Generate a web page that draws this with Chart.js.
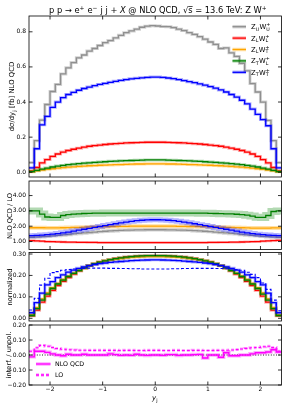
<!DOCTYPE html>
<html>
<head>
<meta charset="utf-8">
<script src="https://cdn.jsdelivr.net/npm/chart.js@4.4.1/dist/chart.umd.min.js"></script>
<style>
  body { margin: 0; background: #fff; overflow: hidden; }
  #wrap { position: relative; width: 293px; height: 410px; }
  canvas { position: absolute; left: 0; top: 0; }
</style>
</head>
<body>
<div id="wrap">
  <canvas id="pTop" width="293" height="410"></canvas>
  <canvas id="pRatio" width="293" height="410"></canvas>
  <canvas id="pNorm" width="293" height="410"></canvas>
  <canvas id="pInterf" width="293" height="410"></canvas>
</div>
<script>
// bin edges in y_j (48 bins of 0.1)
const binEdges = [-2.4, -2.3, -2.2, -2.1, -2.0, -1.9, -1.8, -1.7, -1.6, -1.5, -1.4, -1.3, -1.2, -1.1, -1.0, -0.9, -0.8, -0.7, -0.6, -0.5, -0.4, -0.3, -0.2, -0.1, 0.0,
  0.1, 0.2, 0.3, 0.4, 0.5, 0.6, 0.7, 0.8, 0.9, 1.0, 1.1, 1.2, 1.3, 1.4, 1.5, 1.6, 1.7, 1.8, 1.9, 2.0, 2.1, 2.2, 2.3, 2.4];

const xTickVals = [-2, -1, 0, 1, 2];
const topTickVals = [0, 0.2, 0.4, 0.6, 0.8];
const ratioTickVals = [1, 2, 3, 4];
const normTickVals = [0, 0.1, 0.2, 0.3];
const interfTickVals = [-0.2, -0.1, 0, 0.1, 0.2];

// dsigma/dy_j [fb], NLO QCD
const xsUU = [0.055, 0.18, 0.297, 0.386, 0.46, 0.50, 0.56, 0.595, 0.625, 0.652, 0.668, 0.69, 0.705, 0.722, 0.738, 0.75, 0.765, 0.78, 0.795, 0.805, 0.815, 0.826, 0.832, 0.835,
  0.833, 0.83, 0.829, 0.824, 0.815, 0.807, 0.795, 0.785, 0.772, 0.758, 0.742, 0.728, 0.705, 0.708, 0.68, 0.66, 0.62, 0.578, 0.505, 0.457, 0.40, 0.295, 0.18, 0.055];
const xsLL = [0.008, 0.027, 0.053, 0.072, 0.09, 0.104, 0.115, 0.124, 0.131, 0.137, 0.143, 0.148, 0.152, 0.155, 0.158, 0.161, 0.163, 0.165, 0.167, 0.168, 0.169, 0.17, 0.171, 0.171,
  0.171, 0.171, 0.17, 0.169, 0.168, 0.167, 0.165, 0.163, 0.161, 0.158, 0.155, 0.152, 0.148, 0.143, 0.137, 0.131, 0.124, 0.115, 0.104, 0.09, 0.072, 0.053, 0.027, 0.008];
const xsLT = [0.003, 0.008, 0.013, 0.017, 0.02, 0.023, 0.026, 0.029, 0.031, 0.033, 0.035, 0.037, 0.038, 0.04, 0.041, 0.042, 0.043, 0.044, 0.045, 0.046, 0.047, 0.047, 0.048, 0.048,
  0.048, 0.048, 0.047, 0.047, 0.046, 0.045, 0.044, 0.043, 0.042, 0.041, 0.04, 0.038, 0.037, 0.035, 0.033, 0.031, 0.029, 0.026, 0.023, 0.02, 0.017, 0.013, 0.008, 0.003];
const xsTL = [0.004, 0.011, 0.018, 0.024, 0.03, 0.035, 0.039, 0.043, 0.046, 0.049, 0.052, 0.054, 0.056, 0.058, 0.06, 0.062, 0.063, 0.065, 0.066, 0.067, 0.068, 0.069, 0.07, 0.07,
  0.07, 0.07, 0.069, 0.068, 0.067, 0.066, 0.065, 0.063, 0.062, 0.06, 0.058, 0.056, 0.054, 0.052, 0.049, 0.046, 0.043, 0.039, 0.035, 0.03, 0.024, 0.018, 0.011, 0.004];
const xsTT = [0.025, 0.134, 0.27, 0.318, 0.37, 0.40, 0.425, 0.443, 0.455, 0.467, 0.477, 0.485, 0.493, 0.5, 0.506, 0.512, 0.518, 0.523, 0.528, 0.532, 0.535, 0.538, 0.54, 0.542,
  0.542, 0.54, 0.537, 0.533, 0.528, 0.522, 0.516, 0.51, 0.503, 0.496, 0.488, 0.479, 0.469, 0.457, 0.443, 0.428, 0.41, 0.39, 0.36, 0.33, 0.3, 0.265, 0.134, 0.025];

// NLO QCD / LO
const kUU = [1.28, 1.3, 1.32, 1.34, 1.37, 1.4, 1.43, 1.46, 1.5, 1.53, 1.56, 1.59, 1.62, 1.65, 1.67, 1.69, 1.71, 1.73, 1.74, 1.75, 1.76, 1.76, 1.77, 1.77,
  1.77, 1.77, 1.76, 1.76, 1.75, 1.74, 1.73, 1.71, 1.69, 1.67, 1.65, 1.62, 1.59, 1.56, 1.53, 1.5, 1.46, 1.43, 1.4, 1.37, 1.34, 1.32, 1.3, 1.28];
const kLL = [1.06, 1.04, 1.02, 1.0, 0.99, 0.98, 0.97, 0.96, 0.955, 0.95, 0.945, 0.94, 0.94, 0.935, 0.935, 0.93, 0.93, 0.93, 0.93, 0.93, 0.93, 0.93, 0.93, 0.93,
  0.93, 0.93, 0.93, 0.93, 0.93, 0.93, 0.93, 0.93, 0.935, 0.935, 0.94, 0.94, 0.945, 0.95, 0.955, 0.96, 0.97, 0.98, 0.99, 1.0, 1.02, 1.04, 1.06, 1.08];
const kLT = [1.9, 1.9, 1.9, 1.89, 1.89, 1.89, 1.9, 1.91, 1.92, 1.93, 1.94, 1.95, 1.96, 1.97, 1.97, 1.98, 1.98, 1.99, 1.99, 2.0, 2.0, 2.0, 2.0, 2.0,
  2.0, 2.0, 2.0, 2.0, 1.99, 1.99, 1.98, 1.98, 1.97, 1.97, 1.96, 1.95, 1.94, 1.93, 1.92, 1.91, 1.9, 1.89, 1.88, 1.88, 1.88, 1.88, 1.89, 1.89];
const kTL = [3.0, 3.0, 2.79, 2.6, 2.57, 2.57, 2.7, 2.76, 2.79, 2.81, 2.83, 2.84, 2.85, 2.85, 2.86, 2.86, 2.86, 2.86, 2.86, 2.86, 2.86, 2.86, 2.86, 2.86,
  2.86, 2.86, 2.86, 2.86, 2.86, 2.86, 2.86, 2.86, 2.85, 2.85, 2.84, 2.83, 2.82, 2.81, 2.8, 2.78, 2.76, 2.72, 2.66, 2.58, 2.57, 2.7, 2.96, 3.0];
const kTT = [1.38, 1.4, 1.42, 1.45, 1.48, 1.52, 1.57, 1.62, 1.68, 1.74, 1.8, 1.86, 1.92, 1.98, 2.04, 2.1, 2.16, 2.22, 2.27, 2.32, 2.36, 2.39, 2.41, 2.42,
  2.42, 2.41, 2.39, 2.36, 2.32, 2.27, 2.22, 2.16, 2.1, 2.04, 1.98, 1.92, 1.86, 1.8, 1.74, 1.68, 1.62, 1.57, 1.52, 1.48, 1.45, 1.42, 1.4, 1.38];

// normalized shapes
const nLL = [0.012, 0.038, 0.075, 0.103, 0.13, 0.153, 0.172, 0.19, 0.206, 0.221, 0.234, 0.246, 0.255, 0.263, 0.269, 0.274, 0.279, 0.283, 0.286, 0.288, 0.29, 0.291, 0.292, 0.292,
  0.292, 0.292, 0.291, 0.29, 0.288, 0.286, 0.283, 0.279, 0.274, 0.269, 0.263, 0.255, 0.246, 0.234, 0.221, 0.206, 0.19, 0.172, 0.153, 0.13, 0.103, 0.075, 0.038, 0.012];
const nLT = [0.016, 0.05, 0.09, 0.118, 0.143, 0.163, 0.181, 0.197, 0.211, 0.224, 0.235, 0.245, 0.254, 0.261, 0.267, 0.272, 0.276, 0.279, 0.282, 0.284, 0.286, 0.287, 0.288, 0.288,
  0.288, 0.288, 0.287, 0.286, 0.284, 0.282, 0.279, 0.276, 0.272, 0.267, 0.261, 0.254, 0.245, 0.235, 0.224, 0.211, 0.197, 0.181, 0.163, 0.143, 0.118, 0.09, 0.05, 0.016];
const nTL = [0.013, 0.045, 0.085, 0.113, 0.139, 0.16, 0.178, 0.195, 0.21, 0.223, 0.235, 0.246, 0.255, 0.262, 0.268, 0.274, 0.278, 0.282, 0.285, 0.288, 0.29, 0.291, 0.292, 0.292,
  0.292, 0.292, 0.291, 0.29, 0.288, 0.285, 0.282, 0.278, 0.274, 0.268, 0.262, 0.255, 0.246, 0.235, 0.223, 0.21, 0.195, 0.178, 0.16, 0.139, 0.113, 0.085, 0.045, 0.013];
const nTT = [0.026, 0.073, 0.117, 0.156, 0.171, 0.19, 0.203, 0.215, 0.225, 0.233, 0.24, 0.246, 0.251, 0.255, 0.258, 0.261, 0.263, 0.265, 0.267, 0.269, 0.27, 0.271, 0.272, 0.273,
  0.273, 0.272, 0.271, 0.27, 0.269, 0.267, 0.265, 0.263, 0.261, 0.258, 0.255, 0.251, 0.246, 0.24, 0.233, 0.225, 0.215, 0.203, 0.19, 0.171, 0.156, 0.117, 0.073, 0.026];
const nTTlo = [0.039, 0.093, 0.155, 0.187, 0.213, 0.218, 0.224, 0.227, 0.23, 0.232, 0.233, 0.234, 0.234, 0.234, 0.234, 0.233, 0.233, 0.232, 0.232, 0.231, 0.231, 0.23, 0.23, 0.23,
  0.23, 0.23, 0.23, 0.231, 0.231, 0.232, 0.232, 0.233, 0.233, 0.233, 0.233, 0.232, 0.232, 0.231, 0.23, 0.228, 0.224, 0.215, 0.205, 0.19, 0.165, 0.135, 0.085, 0.035];

// interference / unpolarized
const intNLO = [-0.012, 0.025, 0.025, 0.018, 0.007, 0.0, -0.005, 0.005, 0.0, 0.0, 0.005, 0.0, 0.0, 0.0, 0.0, 0.008, 0.003, -0.002, 0.0, -0.002, 0.005, 0.0, -0.003, 0.0,
  0.0, -0.002, 0.003, 0.003, -0.003, 0.0, 0.0, 0.003, 0.004, -0.02, 0.0, 0.0, -0.015, 0.015, -0.005, -0.005, 0.0, 0.0, 0.008, 0.015, 0.015, 0.02, 0.035, 0.02];
const intLO = [0.025, 0.048, 0.064, 0.058, 0.05, 0.043, 0.038, 0.035, 0.033, 0.032, 0.032, 0.031, 0.031, 0.032, 0.031, 0.031, 0.031, 0.03, 0.031, 0.031, 0.03, 0.03, 0.031, 0.031,
  0.031, 0.03, 0.03, 0.031, 0.031, 0.03, 0.03, 0.031, 0.031, 0.03, 0.03, 0.031, 0.031, 0.032, 0.033, 0.036, 0.04, 0.044, 0.048, 0.05, 0.055, 0.058, 0.05, 0.025];
const zeroLine = [0];

const FAM = '"DejaVu Sans", sans-serif';
const H = 410;

function fmtTick(v, d) { return v.toFixed(d).replace('-', '\u2212'); }

function hist(vals) {
  return binEdges.map((e, i) => ({ x: e, y: vals[Math.min(i, vals.length - 1)] }));
}

function stepLine(vals, color, width, dash) {
  return {
    data: hist(vals), borderColor: color, borderWidth: width, borderDash: dash || [],
    stepped: true, pointRadius: 0, fill: false, clip: 0, borderJoinStyle: 'miter'
  };
}

// a light band-like halo under each histogram line
function series(vals, color, halo, haloW, w, dash) {
  return [stepLine(vals, halo, haloW, dash), stepLine(vals, color, w || 1.3, dash)];
}

function ordered(list) {
  return list.map((d, i) => Object.assign(d, { order: 1000 - i }));
}

// rich text: plain strings, {it}, {over}, {sub, sup}
function setFont(ctx, size, italic) { ctx.font = (italic ? 'italic ' : '') + size + 'px ' + FAM; }
function partW(ctx, p, size) {
  if (typeof p === 'string') { setFont(ctx, size); return ctx.measureText(p).width; }
  if (p.it) { setFont(ctx, size, true); return ctx.measureText(p.it).width; }
  if (p.over) { setFont(ctx, size); return ctx.measureText(p.over).width; }
  setFont(ctx, size * 0.7);
  return Math.max(p.sub ? ctx.measureText(p.sub).width : 0, p.sup ? ctx.measureText(p.sup).width : 0) + size * 0.06;
}
function drawRich(ctx, parts, x, y, size, align, rot) {
  ctx.save();
  ctx.translate(x, y);
  if (rot) ctx.rotate(rot);
  let total = 0;
  parts.forEach(p => { total += partW(ctx, p, size); });
  let cx = align === 'center' ? -total / 2 : (align === 'right' ? -total : 0);
  const base = size * 0.36;
  ctx.fillStyle = '#000';
  ctx.textAlign = 'left';
  ctx.textBaseline = 'alphabetic';
  parts.forEach(p => {
    const w = partW(ctx, p, size);
    if (typeof p === 'string') ctx.fillText(p, cx, base);
    else if (p.it) ctx.fillText(p.it, cx, base);
    else if (p.over) {
      ctx.fillText(p.over, cx, base);
      ctx.fillRect(cx, base - size * 0.82, w, Math.max(0.7, size * 0.07));
    } else {
      if (p.sup) ctx.fillText(p.sup, cx, base - size * 0.42);
      if (p.sub) ctx.fillText(p.sub, cx, base + size * 0.22);
    }
    cx += w;
  });
  ctx.restore();
}

const frame = {
  id: 'frame',
  afterDatasetsDraw(chart) {
    const { ctx, chartArea: a, scales } = chart;
    ctx.save();
    ctx.strokeStyle = '#000';
    ctx.lineWidth = 0.8;
    ctx.strokeRect(a.left, a.top, a.right - a.left, a.bottom - a.top);
    ctx.beginPath();
    xTickVals.forEach(v => {
      const px = scales.x.getPixelForValue(v);
      ctx.moveTo(px, a.bottom); ctx.lineTo(px, a.bottom - 3.5);
      ctx.moveTo(px, a.top); ctx.lineTo(px, a.top + 3.5);
    });
    scales.y.ticks.forEach(t => {
      const py = scales.y.getPixelForValue(t.value);
      ctx.moveTo(a.left, py); ctx.lineTo(a.left + 3.5, py);
      ctx.moveTo(a.right, py); ctx.lineTo(a.right - 3.5, py);
    });
    ctx.stroke();
    ctx.restore();
  }
};

function panel(id, datasets, yMin, yMax, yTicks, dec, top, bottom, deco, showX) {
  const xAxisH = showX ? 12 : 0;
  return new Chart(document.getElementById(id), {
    type: 'line',
    data: { datasets: ordered(datasets) },
    options: {
      responsive: false,
      animation: false,
      events: [],
      layout: { padding: { top: top, bottom: H - bottom - xAxisH, left: 0, right: 11.5 } },
      plugins: { legend: { display: false }, tooltip: { enabled: false } },
      scales: {
        x: {
          type: 'linear', min: -2.4, max: 2.4, display: showX,
          grid: { display: false, drawTicks: false }, border: { display: false },
          afterBuildTicks: s => { s.ticks = xTickVals.map(v => ({ value: v })); },
          afterFit: s => { s.height = xAxisH; },
          ticks: { autoSkip: false, maxRotation: 0, padding: 1, color: '#000',
            font: { family: FAM, size: 6 }, callback: v => fmtTick(v, 0) }
        },
        y: {
          type: 'linear', min: yMin, max: yMax,
          grid: { display: false, drawTicks: false }, border: { display: false },
          afterBuildTicks: s => { s.ticks = yTicks.map(v => ({ value: v })); },
          afterFit: s => { s.width = 29; },
          ticks: { autoSkip: false, padding: 3, color: '#000',
            font: { family: FAM, size: 6 }, callback: v => fmtTick(v, dec) }
        }
      }
    },
    plugins: [frame, { id: 'deco', afterDraw: deco }]
  });
}

const C = {
  grey: '#8f8f8f', greyH: 'rgba(128,128,128,0.35)',
  red: '#ff0000', redH: 'rgba(255,0,0,0.3)',
  orange: '#ffa500', orangeH: 'rgba(255,165,0,0.35)',
  green: '#008000', greenH: 'rgba(0,128,0,0.3)',
  blue: '#0000ff', blueH: 'rgba(0,0,255,0.3)',
  mag: '#ff00ff', magH: 'rgba(255,0,255,0.35)'
};

const legendTop = [
  { parts: ['Z', { sub: 'U' }, 'W', { sub: 'U', sup: '+' }], c: C.grey, h: C.greyH },
  { parts: ['Z', { sub: 'L' }, 'W', { sub: 'L', sup: '+' }], c: C.red, h: C.redH },
  { parts: ['Z', { sub: 'L' }, 'W', { sub: 'T', sup: '+' }], c: C.orange, h: C.orangeH },
  { parts: ['Z', { sub: 'T' }, 'W', { sub: 'L', sup: '+' }], c: C.green, h: C.greenH },
  { parts: ['Z', { sub: 'T' }, 'W', { sub: 'T', sup: '+' }], c: C.blue, h: C.blueH }
];

function legendLine(ctx, x0, x1, y, c, h, dash) {
  ctx.save();
  ctx.lineCap = 'butt';
  ctx.setLineDash(dash || []);
  ctx.strokeStyle = h; ctx.lineWidth = 3.5;
  ctx.beginPath(); ctx.moveTo(x0, y); ctx.lineTo(x1, y); ctx.stroke();
  ctx.strokeStyle = c; ctx.lineWidth = 1.3;
  ctx.beginPath(); ctx.moveTo(x0, y); ctx.lineTo(x1, y); ctx.stroke();
  ctx.restore();
}

// top panel: differential cross sections
panel('pTop', [
  ...series(xsUU, C.grey, C.greyH, 3),
  ...series(xsLL, C.red, C.redH, 3),
  ...series(xsLT, C.orange, C.orangeH, 3),
  ...series(xsTL, C.green, C.greenH, 3),
  ...series(xsTT, C.blue, C.blueH, 3)
], -0.027, 0.89, topTickVals, 1, 16, 177, chart => {
  const ctx = chart.ctx;
  drawRich(ctx, ['p p \u2192 e', { sup: '+' }, ' e', { sup: '\u2212' }, ' j j + ', { it: 'X' },
    ' @ NLO QCD, \u221a', { over: 's' }, ' = 13.6 TeV: Z W', { sup: '+' }], 158, 10, 8.3, 'center');
  drawRich(ctx, ['d\u03c3/dy', { sub: 'j' }, ' [fb] NLO QCD'], 12, 96.5, 6.9, 'center', -Math.PI / 2);
  legendTop.forEach((it, i) => {
    const y = 26.7 + i * 11.4;
    legendLine(ctx, 232.5, 246, y, it.c, it.h);
    drawRich(ctx, it.parts, 251, y, 6.8, 'left');
  });
}, false);

// NLO QCD / LO ratio
panel('pRatio', [
  ...series(kUU, C.grey, C.greyH, 3.5),
  ...series(kLL, C.red, C.redH, 2.5),
  ...series(kLT, C.orange, C.orangeH, 4),
  ...series(kTL, C.green, C.greenH, 7),
  ...series(kTT, C.blue, C.blueH, 5)
], 0.48, 4.95, ratioTickVals, 2, 181, 249.5, chart => {
  drawRich(chart.ctx, ['NLO QCD / LO'], 10, 216, 6.7, 'center', -Math.PI / 2);
}, false);

// normalized distributions
panel('pNorm', [
  ...series(nLL, C.red, C.redH, 3),
  ...series(nLT, C.orange, C.orangeH, 3),
  ...series(nTL, C.green, C.greenH, 3),
  ...series(nTT, C.blue, C.blueH, 3),
  stepLine(nTTlo, C.blue, 1.1, [3, 2])
], -0.0126, 0.307, normTickVals, 2, 252.5, 321, chart => {
  drawRich(chart.ctx, ['normalized'], 10, 287, 6.7, 'center', -Math.PI / 2);
}, false);

// interference / unpolarized
panel('pInterf', [
  stepLine(zeroLine, '#000', 0.9, [1, 1.6]),
  ...series(intLO, C.mag, C.magH, 3, 1.1, [3, 2]),
  ...series(intNLO, C.mag, C.magH, 3.5)
], -0.2, 0.2, interfTickVals, 2, 325, 385, chart => {
  const ctx = chart.ctx;
  drawRich(ctx, ['interf. / unpol.'], 8.5, 355, 6.7, 'center', -Math.PI / 2);
  drawRich(ctx, [{ it: 'y' }, { sub: 'j' }], 155, 397.5, 7, 'center');
  legendLine(ctx, 36, 50.5, 364, C.mag, C.magH);
  drawRich(ctx, ['NLO QCD'], 55, 364, 6.3, 'left');
  legendLine(ctx, 36, 50.5, 375, C.mag, C.magH, [3, 2]);
  drawRich(ctx, ['LO'], 55, 375, 6.3, 'left');
}, true);
</script>
</body>
</html>
